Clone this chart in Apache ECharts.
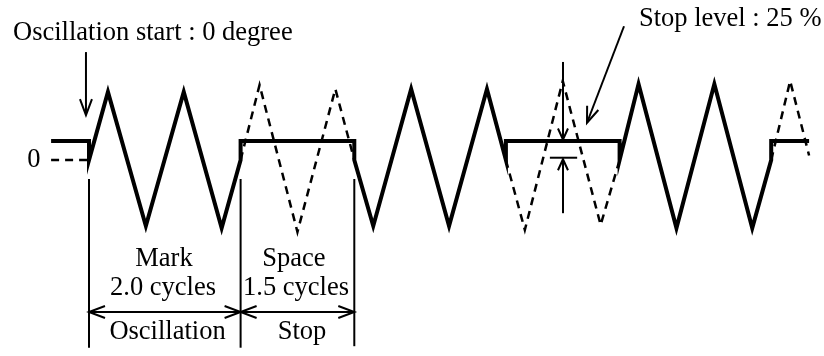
<!DOCTYPE html>
<html><head><meta charset="utf-8">
<script src="https://cdn.jsdelivr.net/npm/echarts@6/dist/echarts.min.js"></script>
<style>html,body{margin:0;padding:0;background:#fff}#c{width:824px;height:356px}</style>
</head><body><div id="c"></div>
<script>
// x: time in oscillation cycles (0 = oscillation start), y: % of amplitude
// Solid: actual output waveform
const solidT = [-0.5, 0, 0, 0.25, 0.75, 1.25, 1.75, 2, 2, 3.5, 3.5, 3.75, 4.25, 4.75, 5.25, 5.5, 5.5, 7, 7, 7.25, 7.75, 8.25, 8.75, 9, 9, 9.5];
const solidV = [25, 25, 0, 89.5, -86.8, 89.5, -89.5, 0, 25, 25, 0, -86.8, 93.4, -86.8, 93.4, 0, 25, 25, 0, 100, -89.5, 100, -89.5, 0, 25, 25];
// Dashed: zero level before start, and the waveform continued during stops
const dashSegT = [[-0.5, 0], [2, 2.25, 2.75, 3.25, 3.5], [5.5, 5.75, 6.25, 6.75, 7], [9, 9.25, 9.5]];
const dashSegV = [[0, 0], [0, 98.7, -94.7, 93.4, 0], [0, -92, 104, -85.5, 0], [0, 104, 6]];

// Annotation arrows: [t1, v1, t2, v2, headAtStart, headAtEnd, headLen(px), headHalfWidth(px)]
const arrows = [
  [-0.04, 142, -0.04, 59, 0, 1, 16, 6],      // oscillation start arrow
  [7.058, 176, 6.57, 49, 0, 1, 16, 6],       // stop level arrow
  [6.253, 129, 6.253, 27, 0, 1, 11, 5],      // measurement top
  [6.253, -70, 6.253, 1, 0, 1, 11, 5],       // measurement bottom
  [6.08, 3, 6.44, 3, 0, 0, 0, 0],            // zero tick
  [0, -25, 0, -247, 0, 0, 0, 0],             // boundary lines
  [2, -25, 2, -247, 0, 0, 0, 0],
  [3.5, -25, 3.5, -245, 0, 0, 0, 0],
  [0, -200, 2, -200, 1, 1, 16, 6],           // Mark span
  [2, -200, 3.5, -200, 1, 1, 16, 6]          // Space span
];

// Labels
const labelTexts = ['Oscillation start : 0 degree', '0', 'Stop level : 25 %', 'Mark', '2.0 cycles', 'Space', '1.5 cycles', 'Oscillation', 'Stop'];
const labelT = [-1.0026, -0.7256, 7.256, 0.989, 0.976, 2.704, 2.731, 1.036, 2.81];
const labelV = [167, 0, 185.5, -130.3, -168.4, -130.3, -168.4, -226, -226];
const labelAlign = ['left', 'center', 'left', 'center', 'center', 'center', 'center', 'center', 'center'];

const FONT = '26.5px "Liberation Serif", "Times New Roman", serif';

const series = [];
series.push({
  type: 'line', data: solidT.map((t, i) => [t, solidV[i]]),
  symbol: 'none', silent: true, animation: false, clip: false, z: 3,
  lineStyle: { color: '#000', width: 4, join: 'miter', miterLimit: 10 }
});
dashSegT.forEach((seg, k) => {
  series.push({
    type: 'line', data: seg.map((t, i) => [t, dashSegV[k][i]]),
    symbol: 'none', silent: true, animation: false, clip: false, z: 1,
    lineStyle: { color: '#000', width: 2.5, type: [8, 6], join: 'miter', miterLimit: 10 }
  });
});
series.push({
  type: 'custom', data: arrows, animation: false, clip: false, silent: true, z: 2,
  encode: { x: [0, 2], y: [1, 3] },
  renderItem: function (params, api) {
    const p1 = api.coord([api.value(0), api.value(1)]);
    const p2 = api.coord([api.value(2), api.value(3)]);
    const hs = api.value(4), he = api.value(5), L = api.value(6), W = api.value(7);
    const st = { stroke: '#000', lineWidth: 2, fill: null };
    const children = [{ type: 'line', shape: { x1: p1[0], y1: p1[1], x2: p2[0], y2: p2[1] }, style: st }];
    const dx = p2[0] - p1[0], dy = p2[1] - p1[1], len = Math.hypot(dx, dy) || 1;
    const ux = dx / len, uy = dy / len, nx = -uy, ny = ux;
    function head(tip, s) {
      return { type: 'polyline', shape: { points: [
        [tip[0] - s * L * ux + W * nx, tip[1] - s * L * uy + W * ny], [tip[0], tip[1]],
        [tip[0] - s * L * ux - W * nx, tip[1] - s * L * uy - W * ny]] }, style: st };
    }
    if (he) children.push(head(p2, 1));
    if (hs) children.push(head(p1, -1));
    return { type: 'group', children: children };
  }
});
series.push({
  type: 'custom', data: labelT.map((t, i) => [t, labelV[i], i]), animation: false, clip: false, silent: true, z: 4,
  renderItem: function (params, api) {
    const p = api.coord([api.value(0), api.value(1)]);
    const i = api.value(2);
    return { type: 'text', x: p[0], y: p[1], style: { text: labelTexts[i], font: FONT, fill: '#000', align: labelAlign[i], verticalAlign: 'middle' } };
  }
});

const chart = echarts.init(document.getElementById('c'), null, { renderer: 'canvas' });
chart.setOption({
  backgroundColor: '#fff',
  animation: false,
  grid: { left: 0, right: 0, top: 0, bottom: 0 },
  xAxis: { type: 'value', min: -89 / 75.8, max: 735 / 75.8, show: false },
  yAxis: { type: 'value', min: -196 / 0.76, max: 160 / 0.76, show: false },
  series: series
});
</script></body></html>
